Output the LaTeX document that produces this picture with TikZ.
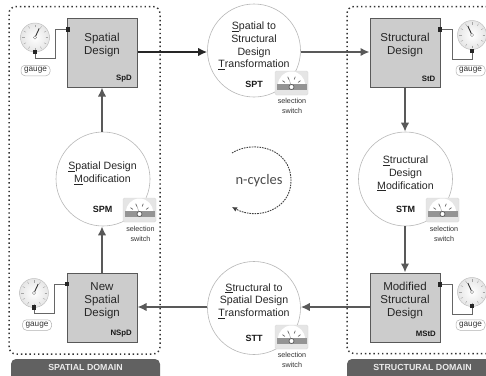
\documentclass[tikz,border=0pt]{standalone}
\usepackage{fontspec}
\setmainfont{Liberation Sans}
\newfontfamily\cyclefont{Carlito}
\usetikzlibrary{arrows.meta,calc}
\tikzset{
  x=1pt,y=-1pt,
  box/.style={draw=black!65,line width=1pt,fill=black!20,minimum width=70pt,minimum height=69pt,inner sep=0pt},
  boxtext/.style={align=center,inner sep=0pt,font=\fontsize{11.5}{13}\selectfont,text=black!85},
  tagtext/.style={font=\bfseries\fontsize{7.8}{9}\selectfont,text=black!90,inner sep=0pt},
  circtag/.style={font=\bfseries\fontsize{9}{10}\selectfont,text=black!90,inner sep=0pt},
  circ/.style={circle,draw=black!28,line width=.6pt,fill=white,inner sep=0pt},
  circtext/.style={align=center,inner sep=0pt,font=\fontsize{10.6}{12.7}\selectfont,text=black!85},
  frameline/.style={draw=black!80,line width=1.5pt,dash pattern=on 1.4pt off 2.9pt,rounded corners=7pt},
  flowdark/.style={draw=black!85,line width=1.8pt,-{Latex[length=9pt,width=8.5pt]}},
  flow/.style={draw=black!65,line width=1.8pt,-{Latex[length=9pt,width=8.5pt]}},
  bar/.style={fill=black!62,rounded corners=5pt},
  bartext/.style={font=\bfseries\fontsize{8.8}{10}\selectfont,text=black!8,inner sep=0pt},
  gaugeface/.style={circle,minimum size=29pt,inner sep=0pt,draw=black!25,line width=.5pt,inner color=white,outer color=black!10},
  pin/.style={fill=black!85,minimum size=4.2pt,inner sep=0pt},
  wireline/.style={draw=black!60,line width=.9pt},
  pill/.style={draw=black!30,line width=.5pt,rounded corners=4pt,fill=white,minimum width=29pt,minimum height=10.5pt,inner sep=0pt,font=\fontsize{8.2}{9}\selectfont,text=black!80},
  switchtext/.style={align=center,inner sep=0pt,font=\fontsize{7.2}{10}\selectfont,text=black!80},
}
\newcommand{\gaugeat}[4]{% name, x, y, needle angle
  \node[gaugeface] (#1) at (#2,#3) {};
  \foreach \a in {0,30,...,330}{\draw[black!35,line width=.4pt] ($(#1)+(\a:10.5pt)$) -- ($(#1)+(\a:13pt)$);}
  \draw[black!80,line width=.9pt] (#1.center) -- ++(#4:10pt);
  \fill[white] (#1.center) circle (1.6pt);
  \draw[black!50,line width=.3pt] (#1.center) circle (1.6pt);
}
\newcommand{\switchat}[3]{% name, x, y (top-left)
  \begin{scope}[shift={(#2,#3)}]
    \node[fill=black!10,draw=black!15,line width=.4pt,rounded corners=1.5pt,minimum width=33pt,minimum height=24pt,inner sep=0pt] (#1) at (16.5,12) {};
    \fill[white] (3,14) arc[start angle=180,end angle=0,radius=13.5pt] -- cycle;
    \fill[black!42] (1.5,12.5) rectangle (31.5,18.5);
    \foreach \a in {35,70,110,145}{\draw[black!60,line width=.7pt] ($(16.5,16)+(\a:8pt)$) -- ($(16.5,16)+(\a:11pt)$);}
    \draw[black!35,line width=.5pt] (16.5,16) -- (14,8);
    \draw[black!70,fill=white,line width=.6pt] (16.5,16) circle (2.5pt);
  \end{scope}
}
\begin{document}
\begin{tikzpicture}
\useasboundingbox (0,0) rectangle (486,375);
\fill[white] (0,0) rectangle (486,375);
% domain frames
\draw[frameline] (9,354) -- (9,6.5) -- (160,6.5) -- (160,354) -- cycle;
\draw[frameline] (500,6.5) -- (347,6.5) -- (347,353.5) -- (500,353.5);
% bars
\fill[bar] (11,385) -- (11,359) -- (160,359) -- (160,385) -- cycle;
\fill[bar] (347,385) -- (347,359) -- (500,359) -- (500,385) -- cycle;
\node[bartext] (spdom) at (85.5,367.5) {SPATIAL DOMAIN};
\node[bartext] (stdom) at (422.5,367.5) {STRUCTURAL DOMAIN};
% boxes
\node[box] (SpD) at (102,52.5) {};
\node[box] (StD) at (405,52.5) {};
\node[box] (NSpD) at (102,307.5) {};
\node[box] (MStD) at (405,307.5) {};
\node[boxtext] (SpDt) at (102,45.5) {Spatial\\Design};
\node[boxtext] (StDt) at (405,45.5) {Structural\\Design};
\node[boxtext] (NSpDt) at (102,300.5) {New\\Spatial\\Design};
\node[boxtext] (MStDt) at (405,300.5) {Modified\\Structural\\Design};
\node[tagtext,anchor=east] (SpDtag) at (132,78.5) {SpD};
\node[tagtext,anchor=east] (StDtag) at (435.5,78.5) {StD};
\node[tagtext,anchor=east] (NSpDtag) at (132,333.5) {NSpD};
\node[tagtext,anchor=east] (MStDtag) at (436,333.5) {MStD};
% circles
\node[circ,minimum size=93pt] (SPT) at (254,50.5) {};
\node[circ,minimum size=93pt] (STT) at (254,308) {};
\node[circ,minimum size=94pt] (SPM) at (103,179) {};
\node[circ,minimum size=94pt] (STM) at (405.5,179) {};
\node[circtext] (SPTt) at (254,46) {\underline{S}patial to\\Structural\\Design\\\underline{T}ransformation};
\node[circtag] (SPTtag) at (254,84) {SPT};
\node[circtext] (STTt) at (254,301) {\underline{S}tructural to\\Spatial Design\\\underline{T}ransformation};
\node[circtag] (STTtag) at (254,338) {STT};
\node[circtext] (SPMt) at (102.5,173.5) {\underline{S}patial Design\\\underline{M}odification};
\node[circtag] (SPMtag) at (102.5,209) {SPM};
\node[circtext] (STMt) at (405.5,173.5) {\underline{S}tructural\\Design\\\underline{M}odification};
\node[circtag] (STMtag) at (405.5,209) {STM};
% flows
\draw[flowdark] (SpD.east |- 0,52) -- (SPT.west |- 0,52);
\draw[flow] (SPT.east |- 0,52) -- (StD.west |- 0,52);
\draw[flow] (StD.south) -- (StD.south |- STM.north);
\draw[flow] (StD.south |- STM.south) -- (MStD.north);
\draw[flow] (MStD.west |- 0,307) -- (STT.east |- 0,307);
\draw[flow] (STT.west |- 0,307) -- (NSpD.east |- 0,307);
\draw[flow] (NSpD.north) -- (NSpD.north |- SPM.south);
\draw[flow] (NSpD.north |- SPM.north) -- (SpD.south);
% switches
\switchat{swA}{275}{71}
\switchat{swB}{275}{325}
\switchat{swC}{123}{198}
\switchat{swD}{426}{198}
\node[switchtext] (swAt) at (292,105.5) {selection\\switch};
\node[switchtext] (swBt) at (292,360) {selection\\switch};
\node[switchtext] (swCt) at (140.5,234) {selection\\switch};
\node[switchtext] (swDt) at (444,233.5) {selection\\switch};
% gauges
\gaugeat{gA}{35}{37.5}{65}
\gaugeat{gB}{34}{293}{65}
\gaugeat{gC}{472}{35}{115}
\gaugeat{gD}{472}{292}{115}
\node[pin] (pA) at (35,52) {}; \node[pin] (qA) at (68,29.5) {};
\node[pin] (pB) at (34,307.5) {}; \node[pin] (qB) at (67,284) {};
\node[pin] (pC) at (472,51) {}; \node[pin] (qC) at (440,29.5) {};
\node[pin] (pD) at (472,306) {}; \node[pin] (qD) at (440,284.5) {};
\draw[wireline] (pA) -- ++(0,6.5) -| (55,29.5) -- (qA);
\draw[wireline] (pB) -- ++(0,6) -| (54,284) -- (qB);
\draw[wireline] (pC) -- ++(0,8) -| (452,29.5) -- (qC);
\draw[wireline] (pD) -- ++(0,8) -| (452,284.5) -- (qD);
\node[pill] (lA) at (35.5,70.5) {gauge};
\node[pill] (lB) at (37,325) {gauge};
\node[pill] (lC) at (470.5,70.5) {gauge};
\node[pill] (lD) at (470.5,325) {gauge};
% n-cycles
\node[inner sep=0pt,font=\cyclefont\fontsize{14.5}{16}\selectfont,text=black!70] (nc) at (259,181) {n-cycles};
\coordinate (cs) at (232,153);
\coordinate (ce) at (232,207);
\draw[black!75,line width=.9pt,dash pattern=on 1.6pt off 1pt,-{Latex[length=5pt,width=5pt]}] (cs) .. controls (252,140) and (291,147) .. (291,181) .. controls (291,209) and (258,221) .. (ce);
\end{tikzpicture}
\end{document}
